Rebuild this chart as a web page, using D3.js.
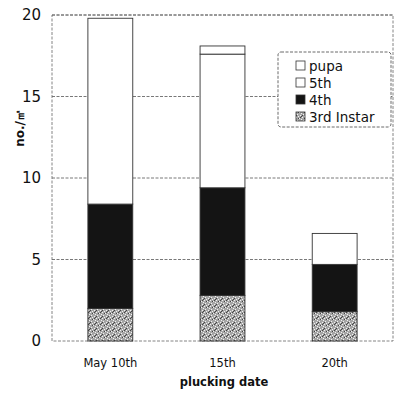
<!DOCTYPE html>
<html>
<head>
<meta charset="utf-8">
<script src="https://cdn.jsdelivr.net/npm/d3@7"></script>
<style>
  body { margin: 0; background: #fff; }
  svg { font-family: "DejaVu Sans", sans-serif; }
</style>
</head>
<body>
<div id="chart"></div>
<script>
// Data
const dates = ["May 10th", "15th", "20th"];
const stages = ["3rd instar", "4th", "5th", "pupa"];
const instar3 = [2.0, 2.8, 1.8];
const instar4 = [6.4, 6.6, 2.9];
const instar5 = [11.4, 8.2, 1.9];
const pupa = [0, 0.5, 0];
const yTicks = [0, 5, 10, 15, 20];
const legendOrder = ["pupa", "5th", "4th", "3rd Instar"];

const size = { width: 398, height: 393 };
const margin = { left: 52, right: 5, top: 15, bottom: 52 };

const rows = dates.map((d, i) => ({
  date: d,
  "3rd instar": instar3[i],
  "4th": instar4[i],
  "5th": instar5[i],
  pupa: pupa[i],
}));

const series = d3.stack().keys(stages)(rows);

const svg = d3
  .select("#chart")
  .append("svg")
  .attr("width", size.width)
  .attr("height", size.height);

// stipple pattern for 3rd instar
const defs = svg.append("defs");
const pat = defs
  .append("pattern")
  .attr("id", "stipple")
  .attr("patternUnits", "userSpaceOnUse")
  .attr("width", 6)
  .attr("height", 6);
pat.append("rect").attr("width", 6).attr("height", 6).attr("fill", "#a5a5a5");
[[0, 0], [3, 1], [1, 3], [4, 4], [5, 2], [2, 5]].forEach(([px, py]) =>
  pat.append("rect").attr("x", px).attr("y", py).attr("width", 1).attr("height", 1).attr("fill", "#f2f2f2")
);
[[2, 1], [0, 4], [4, 0], [5, 5]].forEach(([px, py]) =>
  pat.append("rect").attr("x", px).attr("y", py).attr("width", 1).attr("height", 1).attr("fill", "#444")
);

const fills = {
  "3rd instar": "url(#stipple)",
  "4th": "#141414",
  "5th": "#fff",
  pupa: "#fff",
};

// Scales
const xScale = d3
  .scaleBand(dates, [margin.left, size.width - margin.right])
  .paddingInner(0.6)
  .paddingOuter(0.32);
const yScale = d3.scaleLinear([0, 20], [size.height - margin.bottom, margin.top]);

// grid lines
svg
  .append("g")
  .selectAll("line")
  .data(yTicks.filter((t) => t > 0))
  .join("line")
  .attr("x1", margin.left)
  .attr("x2", size.width - margin.right)
  .attr("y1", (d) => yScale(d))
  .attr("y2", (d) => yScale(d))
  .attr("stroke", "#555")
  .attr("stroke-width", 0.8)
  .attr("stroke-dasharray", "3,1.5");

// frame
svg
  .append("rect")
  .attr("x", margin.left)
  .attr("y", yScale(20))
  .attr("width", size.width - margin.right - margin.left)
  .attr("height", yScale(0) - yScale(20))
  .attr("fill", "none")
  .attr("stroke", "#666")
  .attr("stroke-width", 0.8)
  .attr("stroke-dasharray", "3,1.5");

// bars
svg
  .append("g")
  .selectAll("g")
  .data(series)
  .join("g")
  .attr("fill", (s) => fills[s.key])
  .selectAll("rect")
  .data((s) => s.filter((d) => d[1] - d[0] > 0))
  .join("rect")
  .attr("x", (d) => xScale(d.data.date))
  .attr("y", (d) => yScale(d[1]))
  .attr("width", xScale.bandwidth())
  .attr("height", (d) => yScale(d[0]) - yScale(d[1]))
  .attr("stroke", "#333")
  .attr("stroke-width", 0.9);

// y axis labels
svg
  .append("g")
  .selectAll("text")
  .data(yTicks)
  .join("text")
  .attr("x", 41)
  .attr("y", (d) => yScale(d))
  .attr("dy", "0.36em")
  .attr("text-anchor", "end")
  .attr("font-size", 15)
  .attr("fill", "#111")
  .text((d) => d);

// x axis labels
svg
  .append("g")
  .selectAll("text")
  .data(dates)
  .join("text")
  .attr("x", (d) => xScale(d) + xScale.bandwidth() / 2)
  .attr("y", 367)
  .attr("text-anchor", "middle")
  .attr("font-size", 11.5)
  .attr("fill", "#111")
  .text((d) => d);

// axis titles
svg
  .append("text")
  .attr("x", 224)
  .attr("y", 386)
  .attr("text-anchor", "middle")
  .attr("font-size", 11.5)
  .attr("font-weight", "bold")
  .attr("fill", "#111")
  .text("plucking date");

svg
  .append("text")
  .attr("transform", "translate(24,128) rotate(-90)")
  .attr("text-anchor", "middle")
  .attr("font-size", 12)
  .attr("font-weight", "bold")
  .attr("fill", "#111")
  .text("no./㎡");

// legend
const legend = svg.append("g");
legend
  .append("rect")
  .attr("x", 278)
  .attr("y", 52)
  .attr("width", 113)
  .attr("height", 75)
  .attr("rx", 3)
  .attr("fill", "#fff")
  .attr("stroke", "#444")
  .attr("stroke-width", 0.8)
  .attr("stroke-dasharray", "3,1.5");

const legendFills = ["#fff", "#fff", "#141414", "url(#stipple)"];
const item = legend
  .selectAll("g.item")
  .data(legendOrder)
  .join("g")
  .attr("class", "item")
  .attr("transform", (d, i) => `translate(296,${66 + i * 17})`);
item
  .append("rect")
  .attr("x", 0)
  .attr("y", -5)
  .attr("width", 9)
  .attr("height", 9)
  .attr("fill", (d, i) => legendFills[i])
  .attr("stroke", "#333")
  .attr("stroke-width", 0.8);
item
  .append("text")
  .attr("x", 13)
  .attr("dy", "0.35em")
  .attr("font-size", 13.5)
  .attr("fill", "#111")
  .text((d) => d);
</script>
</body>
</html>
